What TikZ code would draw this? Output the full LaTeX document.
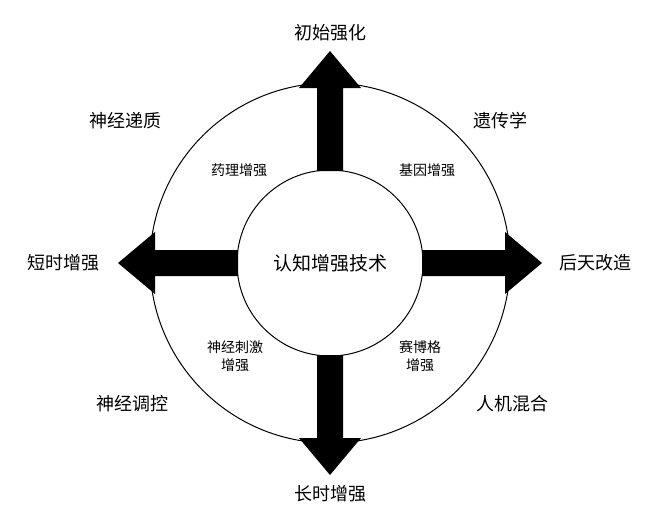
\documentclass[tikz,border=0pt]{standalone}
\usepackage{fontspec}
\newfontfamily\cjk{Noto Sans CJK SC}
\begin{document}
\begin{tikzpicture}[x=1pt,y=-1pt,
  outer/.style={font=\cjk\fontsize{18}{21}\selectfont},
  inner/.style={font=\cjk\fontsize{14}{18}\selectfont,align=center},
  arr/.style={fill=black}]
\useasboundingbox (0,0) rectangle (660,530);
\coordinate (c) at (330,263);
\draw[line width=1pt] (c) circle (180);
\draw[line width=1pt] (c) circle (93);
\foreach \a in {0,90,180,270}{
  \fill[arr,rotate around={\a:(c)}] (330+92,250) -- (330+175,250) -- (330+175,232) -- (330+212,263) -- (330+175,294) -- (330+175,276) -- (330+92,276) -- cycle;
}
\node[font=\cjk\fontsize{19}{23}\selectfont] (center) at (c) {认知增强技术};
\node[outer] (t) at (330,33) {初始强化};
\node[outer] (b) at (330,494) {长时增强};
\node[outer] (l) at (63,263) {短时增强};
\node[outer] (r) at (595,263) {后天改造};
\node[outer] (tl) at (125,121) {神经递质};
\node[outer] (tr) at (500,121) {遗传学};
\node[outer] (bl) at (132,404) {神经调控};
\node[outer] (br) at (512,404) {人机混合};
\node[inner] (i1) at (239,170) {药理增强};
\node[inner] (i2) at (427,170) {基因增强};
\node[inner] (i3) at (235,356) {神经刺激\\增强};
\node[inner] (i4) at (420,356) {赛博格\\增强};
\end{tikzpicture}
\end{document}
